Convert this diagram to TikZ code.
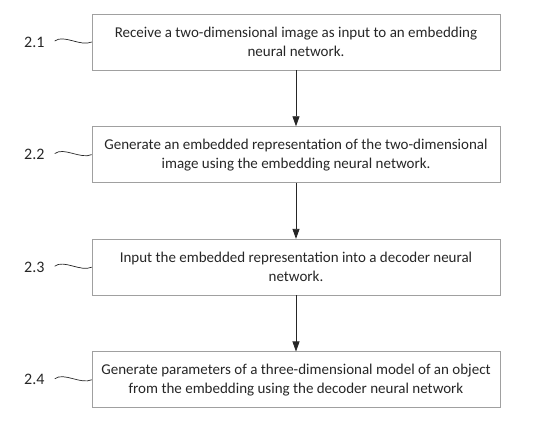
\documentclass[tikz,border=0pt]{standalone}
\usepackage{fontspec}
\setmainfont{Carlito}
\usepackage{tikz}
\usetikzlibrary{arrows.meta,positioning}
\definecolor{boxline}{HTML}{A0A0A0}
\definecolor{ink}{HTML}{262626}
\tikzset{
  stepbox/.style={
    rectangle, draw=boxline, line width=0.6pt,
    minimum width=408pt, minimum height=56pt,
    font=\fontsize{15}{19}\selectfont, text=ink, align=center,
    inner sep=2pt
  },
  steplabel/.style={
    font=\fontsize{16}{18}\selectfont, text=ink, inner sep=1pt
  },
  flowarrow/.style={
    -{Triangle[length=10pt,width=7pt]}, line width=0.8pt, color=ink
  },
  squiggle/.style={line width=0.7pt, color=ink},
}
\begin{document}
\begin{tikzpicture}[x=1pt, y=-1pt, node distance=56pt]
    \useasboundingbox (0,0) rectangle (550,430);
    \node[stepbox] (box1) at (296,42) {Receive a two-dimensional image as input to an embedding\\neural network.};
    \node[stepbox, below=of box1] (box2) {Generate an embedded representation of the two-dimensional\\image using the embedding neural network.};
    \node[stepbox, below=of box2] (box3) {Input the embedded representation into a decoder neural\\network.};
    \node[stepbox, below=of box3] (box4) {Generate parameters of a three-dimensional model of an object\\from the embedding using the decoder neural network};
    \draw[flowarrow] (box1) -- (box2);
    \draw[flowarrow] (box2) -- (box3);
    \draw[flowarrow] (box3) -- (box4);
    % reference numerals
    \foreach \i in {1,...,4} {
      \node[steplabel, anchor=east] (lbl\i) at ([xshift=-46pt]box\i.west) {2.\i};
      \draw[squiggle] ([xshift=9pt,yshift=1pt]lbl\i.east) .. controls +(9,-7) and +(-11,5) .. (box\i.west);
    }
\end{tikzpicture}
\end{document}
